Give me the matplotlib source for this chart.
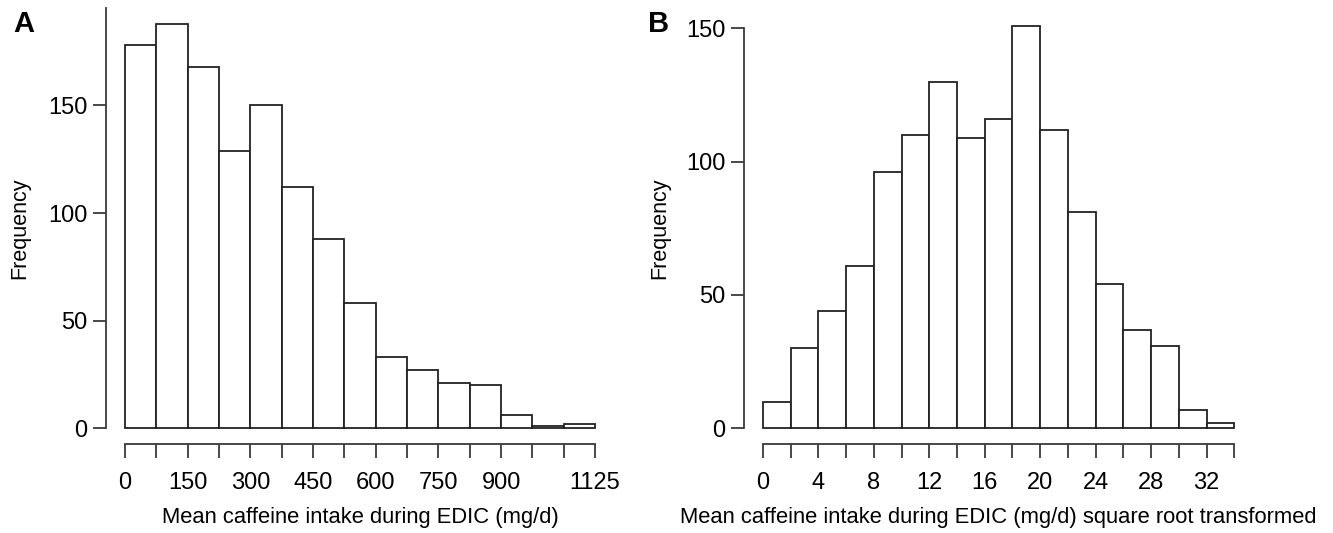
# two histograms of caffeine intake, R-style axes

import matplotlib
matplotlib.use('Agg')
import matplotlib.pyplot as plt
import matplotlib.transforms as mtransforms
import numpy as np

plt.rcParams['font.family'] = ['Liberation Sans', 'DejaVu Sans']

# ------ Data ------
edges_a = np.arange(0, 1126, 75)
counts_a = [178, 188, 168, 129, 150, 112, 88, 58, 33, 27, 21, 20, 6, 1, 2]
xlabels_a = ['0', '150', '300', '450', '600', '750', '900', '1125']
xlabpos_a = [0, 150, 300, 450, 600, 750, 900, 1125]

edges_b = np.arange(0, 35, 2)
counts_b = [10, 30, 44, 61, 96, 110, 130, 109, 116, 151, 112, 81, 54, 37, 31, 7, 2]
xlabels_b = ['0', '4', '8', '12', '16', '20', '24', '28', '32']
xlabpos_b = [0, 4, 8, 12, 16, 20, 24, 28, 32]

yticks_a = [0, 50, 100, 150]
yticks_b = [0, 50, 100, 150]

W, H = 1333, 533
fig = plt.figure(figsize=(W / 100, H / 100), dpi=100)

ink = '#222222'
axink = '#3a3a3a'


def px_axes(left, top, width, height):
    return fig.add_axes([left / W, (H - top - height) / H, width / W, height / H])


def rhist(ax, edges, counts, xlabpos, xlabels, yticks, ytop, xlabel, ylab_x):
    lo, hi = edges[0], edges[-1]
    pad_x = 0.04 * (hi - lo)
    ymax = max(counts)
    ax.bar(edges[:-1], counts, width=np.diff(edges), align='edge',
           facecolor='white', edgecolor=ink, linewidth=1.3)
    ax.set_xlim(lo - pad_x, hi + pad_x)
    ax.set_ylim(-0.04 * ymax, ymax * 1.04)

    ax.spines['top'].set_visible(False)
    ax.spines['right'].set_visible(False)
    ax.spines['left'].set_bounds(0, ytop)
    ax.spines['bottom'].set_bounds(lo, hi)
    for s in ['left', 'bottom']:
        ax.spines[s].set_color(axink)
        ax.spines[s].set_linewidth(1.3)

    # ticks at every bin edge, labels only where R kept them
    ax.set_xticks(edges)
    ax.set_xticklabels([xlabels[xlabpos.index(e)] if e in xlabpos else '' for e in edges])
    ax.set_yticks(yticks)
    ax.tick_params(axis='x', length=10, width=1.3, color=axink, pad=10, labelsize=17)
    ax.tick_params(axis='y', length=9.3, width=1.3, color=axink, pad=4, labelsize=17)

    # axis titles placed by pixel, like R's mtext lines
    ax.set_ylabel('Frequency', fontsize=15.5, va='center')
    ax.yaxis.set_label_coords(ylab_x / W, 1 - 228 / H, transform=fig.transFigure)
    ax.set_xlabel(xlabel, fontsize=15.8, va='center')
    tr = mtransforms.blended_transform_factory(ax.transAxes, fig.transFigure)
    ax.xaxis.set_label_coords(0.5, 1 - 518 / H, transform=tr)


# ------ Panel A ------
ax1 = px_axes(106.2, 7.5, 507.7, 436.9)
rhist(ax1, edges_a, counts_a, xlabpos_a, xlabels_a, yticks_a, 195.5,
      'Mean caffeine intake during EDIC (mg/d)', 20)

# ------ Panel B ------
ax2 = px_axes(744.0, 9.4, 509.2, 435.0)
rhist(ax2, edges_b, counts_b, xlabpos_b, xlabels_b, yticks_b, 150,
      'Mean caffeine intake during EDIC (mg/d) square root transformed', 660)

fig.text(24 / W, 1 - 24 / H, 'A', fontsize=21, fontweight='bold', ha='center', va='center')
fig.text(659 / W, 1 - 24 / H, 'B', fontsize=21, fontweight='bold', ha='center', va='center')

plt.savefig('out.png', dpi=100)
